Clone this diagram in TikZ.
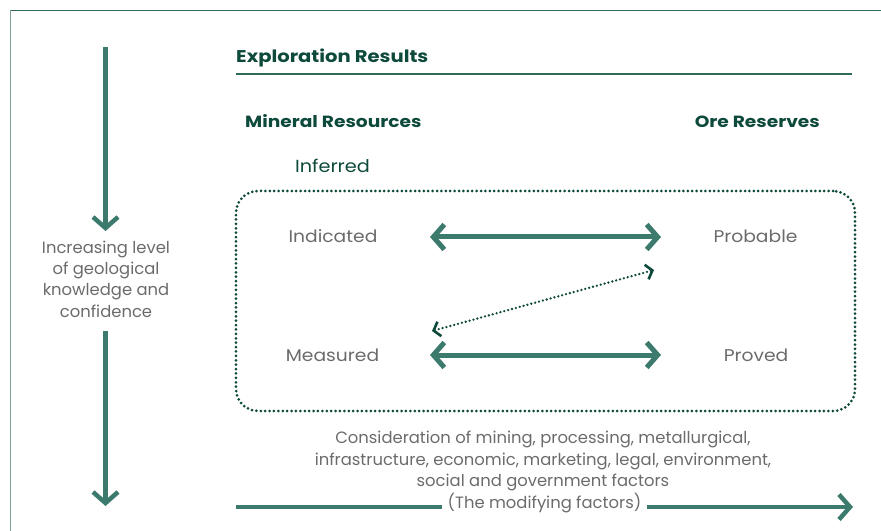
\documentclass[tikz,border=0pt]{standalone}
\usepackage{fontspec}
\setmainfont{Poppins}
\newfontfamily\headface[FakeStretch=1.15]{Poppins}
\newfontfamily\labelface[FakeStretch=1.1]{Poppins}
\usetikzlibrary{arrows.meta}

\definecolor{deepgreen}{HTML}{0E4A3C}
\definecolor{arrowteal}{HTML}{3D7A6E}
\definecolor{labelgray}{HTML}{6B6B6B}
\definecolor{framedark}{HTML}{2F6A5A}
\definecolor{framelight}{HTML}{7FA39C}

\tikzset{
  head/.style={inner sep=0pt, text=deepgreen, font={\headface\fontsize{17bp}{20bp}\selectfont\bfseries}},
  subhead/.style={head, font={\headface\fontsize{16.2bp}{19bp}\selectfont\bfseries}},
  catname/.style={inner sep=0pt, text=deepgreen, font={\labelface\fontsize{17.5bp}{20bp}\selectfont}},
  lbl/.style={inner sep=0pt, text=labelgray, font={\labelface\fontsize{17bp}{20bp}\selectfont}},
  note/.style={inner sep=0pt, text=labelgray, align=center, font={\fontsize{16.4bp}{21.3bp}\selectfont}},
  chev/.tip={Straight Barb[length=11bp,width=25bp]},
  bigarrow/.style={draw=arrowteal, line width=4.5bp, -chev},
  twoway/.style={draw=arrowteal, line width=5bp, chev-chev},
  dotline/.style={draw=deepgreen, line width=3bp, line cap=round, dash pattern=on 0bp off 4.4bp},
  dottip/.tip={Straight Barb[length=6bp,width=15bp,line cap=butt]},
  dotarrow/.style={dotline, line width=2.6bp, dash pattern=on 0bp off 4bp, dottip-dottip}
}

\begin{document}
\begin{tikzpicture}[x=1bp, y=-1bp]
  \useasboundingbox (0,0) rectangle (881,531);

  % page frame
  \draw[framelight, line width=1.3bp] (10.5,531) -- (10.5,10.5);
  \draw[framedark, line width=1.3bp] (10.5,10.5) -- (881,10.5);

  % headings
  \node[head, anchor=base west] (expl) at (236,62.5) {Exploration Results};
  \draw[framedark, line width=1.3bp] (236,74) -- (852,74);
  \node[subhead, anchor=base west] (minres) at (245,127.5) {Mineral Resources};
  \node[subhead, anchor=base east] (orres) at (820,127.5) {Ore Reserves};
  \node[catname, anchor=base] (inf) at (332.5,173) {Inferred};

  % dotted enclosure
  \node[dotline, rounded corners=22bp, minimum width=619bp, minimum height=220bp] (box) at (545.5,301) {};

  % categories
  \node[lbl, anchor=base] (ind) at (333,242.5) {Indicated};
  \node[lbl, anchor=base] (prob) at (755.5,242.5) {Probable};
  \node[lbl, anchor=base] (meas) at (332.5,361.5) {Measured};
  \node[lbl, anchor=base] (prov) at (756,361.5) {Proved};

  % conversion arrows
  \coordinate (upL) at (430,237);
  \coordinate (upR) at (661,237);
  \coordinate (loL) at (430,355);
  \coordinate (loR) at (661,355);
  \draw[twoway] (upL) -- (upR);
  \draw[twoway] (loL) -- (loR);
  \coordinate (dgL) at (432,331);
  \coordinate (dgR) at (654,270);
  \draw[dotarrow] (dgL) -- (dgR);

  % knowledge axis
  \node[note] (know) at (106,279) {Increasing level\\of geological\\knowledge and\\confidence};
  \coordinate (kTop) at (105.5,47);
  \coordinate (kMidA) at (105.5,231);
  \coordinate (kMidB) at (105.5,331);
  \coordinate (kBot) at (105.5,506);
  \draw[bigarrow] (kTop) -- (kMidA);
  \draw[bigarrow] (kMidB) -- (kBot);

  % modifying factors
  \node[note] (cons) at (543,461) {Consideration of mining, processing, metallurgical,\\infrastructure, economic, marketing, legal, environment,\\social and government factors};
  \node[note, inner xsep=6bp] (mf) at (544.5,503.5) {(The modifying factors)};
  \coordinate (mStart) at (236,507);
  \coordinate (mEnd) at (853,507);
  \draw[draw=arrowteal, line width=4.5bp] (mStart) -- (mStart -| mf.west);
  \draw[bigarrow] (mEnd -| mf.east) -- (mEnd);
\end{tikzpicture}
\end{document}
